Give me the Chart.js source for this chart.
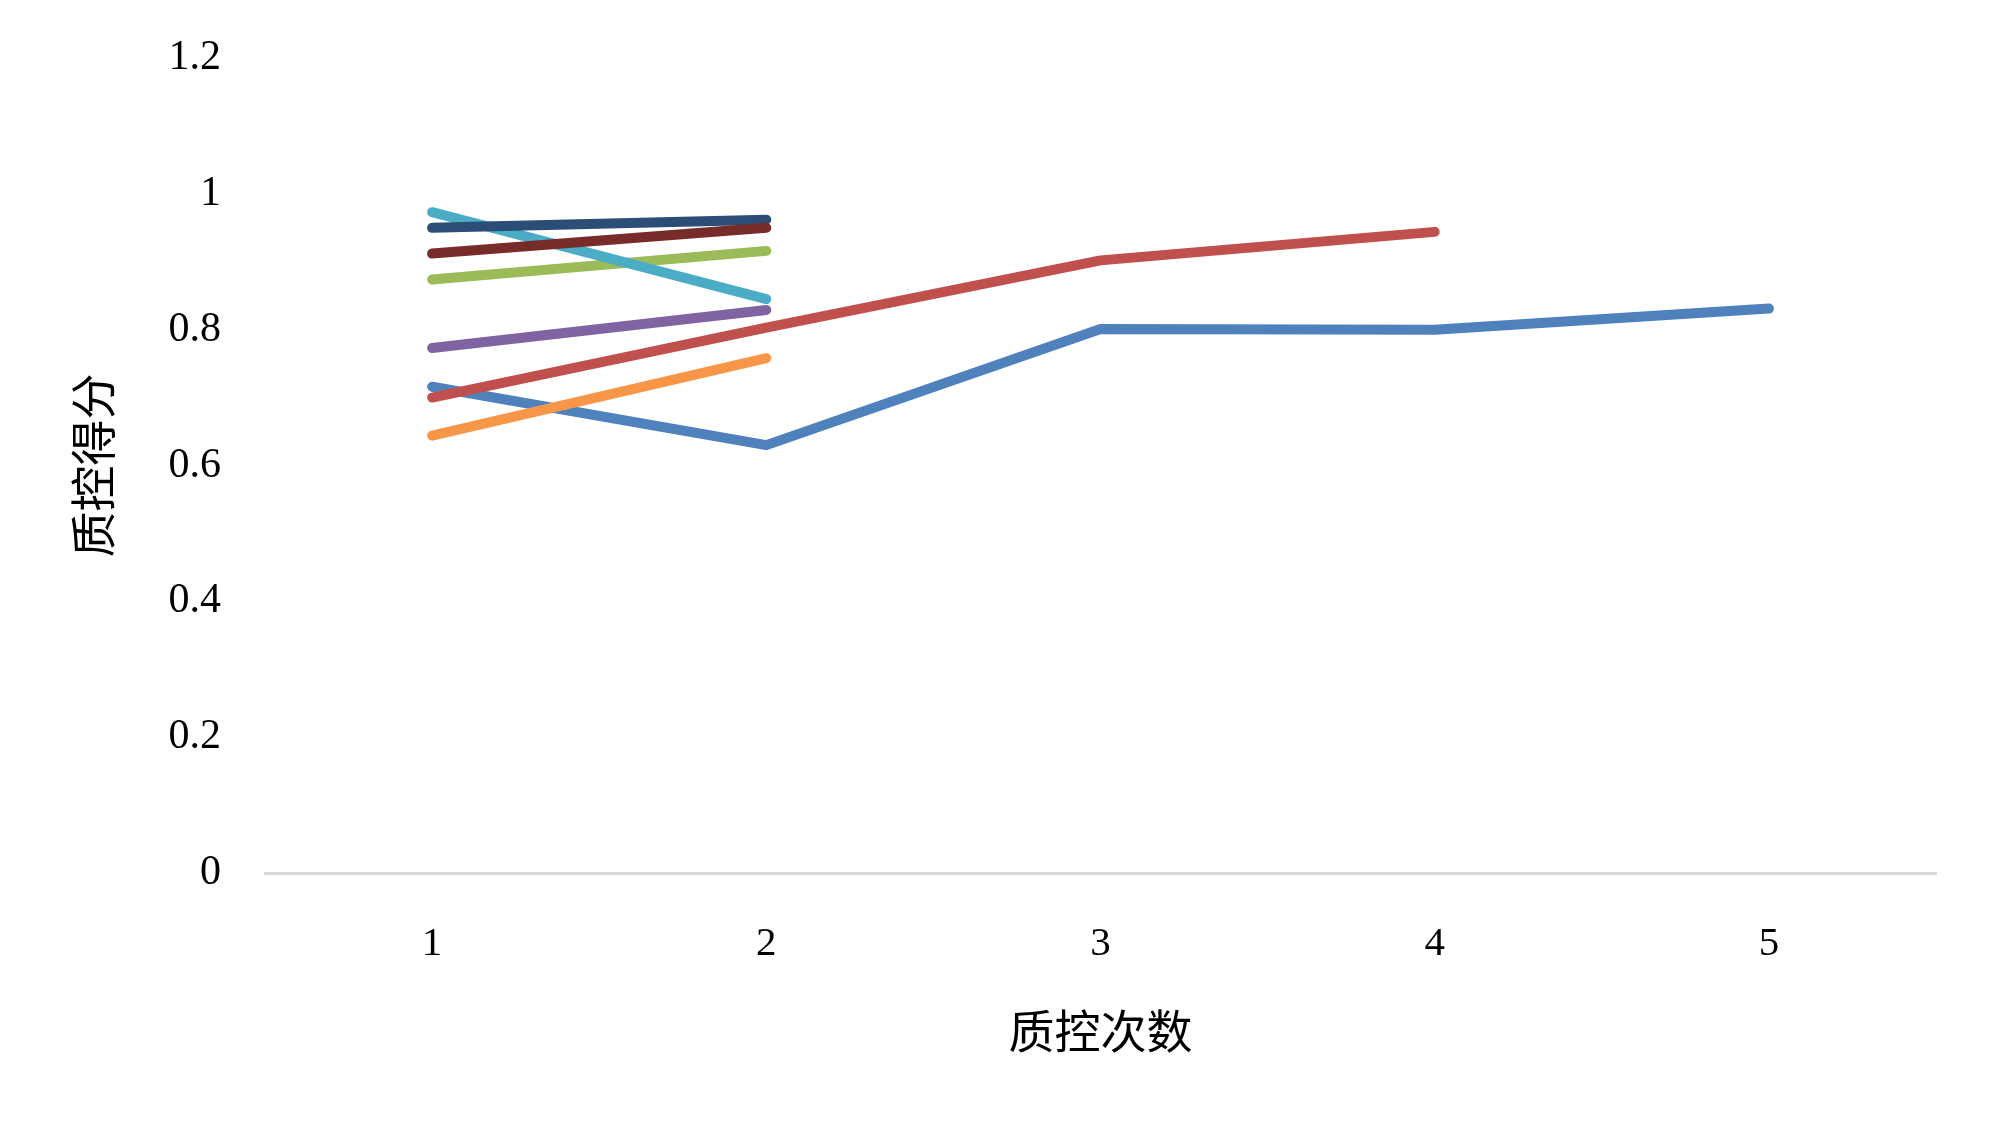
<!DOCTYPE html>
<html>
<head>
<meta charset="utf-8">
<script src="https://cdn.jsdelivr.net/npm/chart.js@4"></script>
<style>
  html, body { margin: 0; padding: 0; background: #ffffff; }
  #wrap { width: 2000px; height: 1139px; }
</style>
</head>
<body>
<div id="wrap"><canvas id="chart" width="2000" height="1139"></canvas></div>
<script>
// Chart data
const categories = ['1', '2', '3', '4', '5'];
const yTicks = [0, 0.2, 0.4, 0.6, 0.8, 1, 1.2];

const series1 = [0.716, 0.630, 0.801, 0.800, 0.831];
const series2 = [0.700, 0.803, 0.902, 0.944, null];
const series3 = [0.874, 0.916, null, null, null];
const series4 = [0.773, 0.829, null, null, null];
const series5 = [0.973, 0.845, null, null, null];
const series6 = [0.644, 0.758, null, null, null];
const series7 = [0.950, 0.962, null, null, null];
const series8 = [0.912, 0.950, null, null, null];

const seriesNames = ['系列1', '系列2', '系列3', '系列4', '系列5', '系列6', '系列7', '系列8'];
const seriesData = [series1, series2, series3, series4, series5, series6, series7, series8];
const seriesColors = ['#4F81BD', '#C0504D', '#9BBB59', '#8064A2', '#4BACC6', '#F79646', '#2C4D75', '#772C2A'];

const serif = "'Liberation Serif', 'Times New Roman', 'Noto Sans CJK SC', serif";

const datasets = seriesData.map((d, i) => ({
    label: seriesNames[i],
    data: d,
    borderColor: seriesColors[i],
    backgroundColor: seriesColors[i],
    borderWidth: 10,
    borderCapStyle: 'round',
    borderJoinStyle: 'round',
    pointRadius: 0,
    tension: 0,
    fill: false,
    // later series on top, like the original
    order: seriesData.length - i
}));

const ctx = document.getElementById('chart').getContext('2d');
new Chart(ctx, {
    type: 'line',
    data: { labels: categories, datasets: datasets },
    options: {
        responsive: false,
        animation: false,
        events: [],
        layout: { padding: { top: 58, right: 64, left: 0, bottom: 0 } },
        plugins: {
            legend: { display: false },
            tooltip: { enabled: false }
        },
        scales: {
            x: {
                offset: true,
                grid: { display: false, drawTicks: false, offset: true },
                border: { display: true, color: '#D9D9D9', width: 3 },
                ticks: {
                    color: '#000000',
                    padding: 47,
                    font: { family: serif, size: 41 }
                },
                title: {
                    display: true,
                    text: '质控次数',
                    color: '#000000',
                    font: { family: serif, size: 46 },
                    padding: { top: 0, bottom: 75 }
                },
                afterFit: (scale) => {
                    scale.height = 266;
                    scale.paddingLeft = 0;
                    scale.paddingRight = 0;
                }
            },
            y: {
                min: 0,
                max: 1.2,
                grid: { display: false, drawTicks: false },
                border: { display: false },
                afterBuildTicks: (scale) => {
                    scale.ticks = yTicks.map(v => ({ value: v }));
                },
                ticks: {
                    color: '#000000',
                    padding: 44,
                    font: { family: serif, size: 42 },
                    callback: (v) => String(Number(v.toFixed(1)))
                },
                title: {
                    display: true,
                    text: '质控得分',
                    color: '#000000',
                    font: { family: serif, size: 46 },
                    padding: { top: 70, bottom: 0 }
                },
                afterFit: (scale) => {
                    scale.width = 265;
                    scale.paddingTop = 0;
                    scale.paddingBottom = 0;
                }
            }
        }
    }
});
</script>
</body>
</html>
